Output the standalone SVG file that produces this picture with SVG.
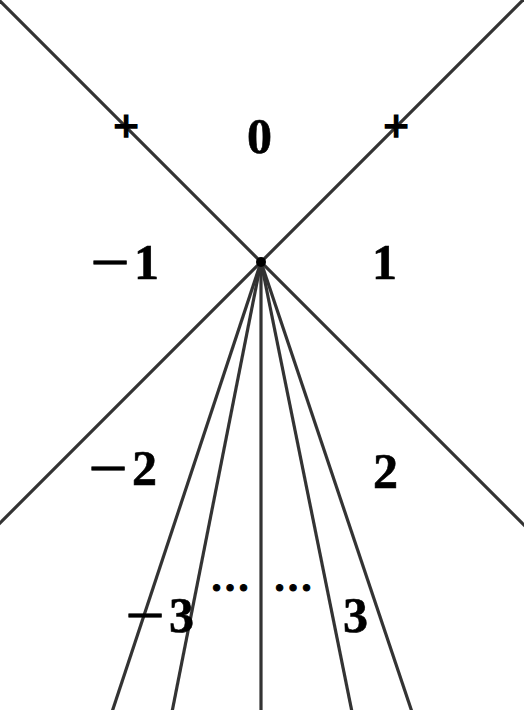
<svg xmlns="http://www.w3.org/2000/svg" width="524" height="710" viewBox="0 0 524 710">
<style>
.ln{stroke:#333;stroke-width:3.2;fill:none}
.lb{font-family:"Liberation Serif",serif;font-weight:bold;font-size:50px;fill:#000;stroke:#000;stroke-width:0.6}
.mn{font-family:"Liberation Serif",serif;font-weight:bold;font-size:50px;fill:#000;stroke:#000;stroke-width:0.5}
.pl{font-family:"Liberation Serif",serif;font-weight:bold;font-size:46px;fill:#000;stroke:#000;stroke-width:1.4;text-anchor:middle}
.dt{font-family:"Liberation Serif",serif;font-weight:bold;font-size:40px;fill:#000;stroke:#000;stroke-width:1}
</style>
<rect width="524" height="710" fill="#fff"/>
<g id="connectors">
<line class="ln" x1="-2" y1="-1" x2="526" y2="527"/>
<line class="ln" x1="526" y1="-3" x2="-2" y2="525"/>
<line class="ln" x1="261" y1="262" x2="112" y2="712"/>
<line class="ln" x1="261" y1="262" x2="172" y2="712"/>
<line class="ln" x1="261" y1="262" x2="261" y2="712"/>
<line class="ln" x1="261" y1="262" x2="352" y2="712"/>
<line class="ln" x1="261" y1="262" x2="412" y2="712"/>
</g>
<g id="center"><circle cx="261" cy="262" r="5" fill="#000"/></g>
<g id="plus-left"><text class="pl" x="126" y="142">+</text></g>
<g id="plus-right"><text class="pl" x="396" y="142">+</text></g>
<g id="label-0"><text class="lb" x="247" y="153">0</text></g>
<g id="label-1"><text class="lb" x="372" y="279">1</text></g>
<g id="label-m1"><text class="mn" x="90" y="279" textLength="40" lengthAdjust="spacingAndGlyphs">−</text><text class="lb" x="134" y="279">1</text></g>
<g id="label-2"><text class="lb" x="373" y="488">2</text></g>
<g id="label-m2"><text class="mn" x="88" y="485" textLength="40" lengthAdjust="spacingAndGlyphs">−</text><text class="lb" x="132" y="485">2</text></g>
<g id="label-m3"><text class="mn" x="125" y="632" textLength="40" lengthAdjust="spacingAndGlyphs">−</text><text class="lb" x="169" y="632">3</text></g>
<g id="label-3"><text class="lb" x="343" y="632">3</text></g>
<g id="dots-left"><text class="dt" x="210" y="591">…</text></g>
<g id="dots-right"><text class="dt" x="273" y="591">…</text></g>
</svg>
